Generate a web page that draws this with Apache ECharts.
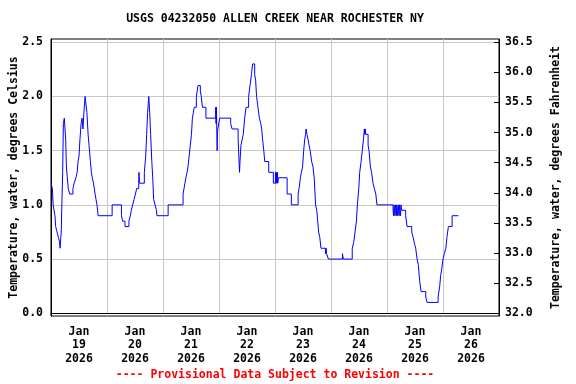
<!DOCTYPE html>
<html><head><meta charset="utf-8">
<script src="https://cdn.jsdelivr.net/npm/echarts@6/dist/echarts.min.js"></script>
<style>html,body{margin:0;padding:0;background:#fff}#c{width:576px;height:384px}</style>
</head><body><div id="c"></div>
<script>
// Hours since 2026-01-19 00:00 at which the reading changes, and the reading (deg C)
const hours = [0.0,0.6,0.9,1.7,2.0,2.6,3.2,3.7,3.9,4.2,4.4,4.6,5.0,5.3,5.7,6.3,6.6,7.0,7.4,8.0,9.4,9.9,10.7,11.2,11.6,12.0,12.4,12.9,13.3,13.7,14.1,14.6,15.4,15.9,16.3,16.9,17.3,17.7,18.2,18.9,19.3,19.7,20.2,
26.2,30.2,30.7,31.7,33.4,34.0,34.4,35.0,35.6,36.2,36.7,37.6,37.7,37.9,40.0,40.6,41.0,41.4,41.9,42.3,42.7,43.2,43.6,44.0,44.6,45.2,45.4,
50.2,56.6,57.0,57.4,57.8,58.3,58.7,59.2,59.7,60.2,60.6,61.0,61.4,62.3,63.0,64.0,64.4,64.9,66.4,
70.6,70.75,70.9,71.05,71.2,71.35,71.5,72.3,77.0,77.6,80.2,80.5,80.8,81.0,81.4,81.9,82.4,83.0,83.6,84.7,85.3,85.9,86.4,87.3,87.7,88.1,88.7,89.3,89.9,90.3,90.7,91.2,91.6,93.3,95.3,
96.2,96.4,96.6,96.8,97.0,97.2,97.4,101.2,103.0,105.9,106.3,106.9,107.3,107.8,108.3,108.7,109.1,109.3,109.7,110.2,110.6,111.1,111.7,112.3,112.8,113.4,113.9,114.3,114.7,115.2,115.7,
117.7,117.9,118.1,118.9,124.9,125.3,129.1,129.7,130.3,130.9,131.3,131.9,132.3,132.9,133.4,133.9,134.3,134.5,134.7,134.9,135.9,136.3,136.9,137.4,138.0,138.6,139.2,139.7,
146.6,146.8,147.0,147.2,147.4,147.6,147.8,148.0,148.2,148.4,148.6,148.8,149.0,149.2,149.4,149.6,149.8,150.0,150.3,
152.0,152.6,154.6,155.2,155.7,156.3,156.9,157.4,158.0,158.6,160.6,161.2,165.9,166.6,167.0,167.4,168.0,168.6,169.2,169.7,170.3,171.9,174.6];
const tempC = [1.2,1.15,1.0,0.9,0.8,0.75,0.7,0.65,0.6,0.7,0.75,0.95,1.3,1.75,1.8,1.6,1.35,1.25,1.15,1.1,1.15,1.2,1.25,1.3,1.4,1.45,1.6,1.75,1.8,1.7,1.85,2.0,1.85,1.65,1.55,1.4,1.3,1.25,1.2,1.1,1.05,1.0,0.9,
1.0,0.9,0.85,0.8,0.85,0.9,0.95,1.0,1.05,1.1,1.15,1.2,1.3,1.2,1.3,1.45,1.65,1.85,2.0,1.85,1.65,1.4,1.25,1.05,1.0,0.95,0.9,
1.0,1.1,1.15,1.2,1.25,1.3,1.35,1.45,1.55,1.65,1.8,1.85,1.9,2.0,2.1,2.05,2.0,1.9,1.8,
1.9,1.75,1.9,1.7,1.5,1.65,1.7,1.8,1.75,1.7,1.6,1.45,1.3,1.4,1.55,1.6,1.65,1.8,1.9,2.0,2.1,2.2,2.3,2.2,2.15,2.0,1.9,1.8,1.75,1.7,1.6,1.5,1.4,1.3,1.2,
1.3,1.2,1.3,1.2,1.3,1.2,1.25,1.1,1.0,1.1,1.15,1.25,1.3,1.35,1.5,1.6,1.65,1.7,1.65,1.6,1.55,1.5,1.4,1.35,1.25,1.0,0.95,0.85,0.75,0.7,0.6,
0.55,0.6,0.55,0.5,0.55,0.5,0.6,0.65,0.75,0.85,1.0,1.15,1.3,1.4,1.5,1.6,1.7,1.65,1.7,1.65,1.55,1.5,1.35,1.3,1.2,1.15,1.1,1.0,
0.95,0.9,1.0,0.95,0.9,1.0,0.95,0.9,1.0,0.95,0.9,1.0,0.95,0.9,1.0,0.95,0.9,1.0,0.95,
0.9,0.8,0.75,0.7,0.65,0.6,0.5,0.45,0.3,0.2,0.15,0.1,0.15,0.25,0.35,0.4,0.5,0.55,0.6,0.7,0.8,0.9,0.9];

const dayLabelHours = [12,36,60,84,108,132,156,180];
const dayLabels = ['Jan\n19\n2026','Jan\n20\n2026','Jan\n21\n2026','Jan\n22\n2026','Jan\n23\n2026','Jan\n24\n2026','Jan\n25\n2026','Jan\n26\n2026'];
const celsiusTicks = [0,0.5,1.0,1.5,2.0,2.5];
const fahrenheitTicks = [32.0,32.5,33.0,33.5,34.0,34.5,35.0,35.5,36.0,36.5];
const titleText = 'USGS 04232050 ALLEN CREEK NEAR ROCHESTER NY';
const footerText = '---- Provisional Data Subject to Revision ----';

const FONT = 'DejaVu Sans Mono';
const txt = {fontFamily: FONT, fontWeight: 'bold', fontSize: 11.5, color: '#000'};
const chart = echarts.init(document.getElementById('c'), null, {renderer: 'canvas'});
const yMinC = -0.025, yMaxC = 2.53;
chart.setOption({
  animation: false,
  backgroundColor: '#fff',
  grid: {left: 51, top: 39, width: 448, height: 277, show: true, borderColor: '#000', borderWidth: 1,
         containLabel: false, outerBoundsMode: 'none'},
  graphic: [
    {type: 'text', x: 275, y: 19, style: {text: titleText, textAlign: 'center', textVerticalAlign: 'middle', fill: '#000', font: 'bold 11.5px "' + FONT + '"'}},
    {type: 'text', x: 275, y: 375, style: {text: footerText, textAlign: 'center', textVerticalAlign: 'middle', fill: '#ff0000', font: 'bold 11.5px "' + FONT + '"'}}
  ],
  xAxis: {
    type: 'value', min: 0, max: 192, interval: 24,
    axisLine: {show: true, lineStyle: {color: '#000', width: 1}},
    axisTick: {show: false},
    splitLine: {show: true, lineStyle: {color: '#c8c8c8', width: 1}},
    axisLabel: Object.assign({}, txt, {
      customValues: dayLabelHours, margin: 9, lineHeight: 13.5,
      formatter: v => dayLabels[dayLabelHours.indexOf(v)] || ''
    })
  },
  yAxis: [
    {
      type: 'value', position: 'left', min: yMinC, max: yMaxC,
      name: 'Temperature, water, degrees Celsius', nameLocation: 'middle', nameGap: 31, nameMoveOverlap: false,
      nameTextStyle: txt,
      axisLine: {show: true, lineStyle: {color: '#000'}},
      axisTick: {show: false, customValues: celsiusTicks},
      splitLine: {show: true, lineStyle: {color: '#c8c8c8', width: 1}},
      axisLabel: Object.assign({}, txt, {customValues: celsiusTicks, margin: 8, formatter: v => v.toFixed(1)})
    },
    {
      type: 'value', position: 'right', min: 32 + yMinC * 1.8, max: 32 + yMaxC * 1.8,
      name: 'Temperature, water, degrees Fahrenheit', nameLocation: 'middle', nameGap: 51, nameRotate: 90, nameMoveOverlap: false,
      nameTextStyle: txt,
      axisLine: {show: true, lineStyle: {color: '#000'}},
      axisTick: {show: true, inside: true, length: 5, customValues: fahrenheitTicks, lineStyle: {color: '#000'}},
      splitLine: {show: false},
      axisLabel: Object.assign({}, txt, {customValues: fahrenheitTicks, margin: 6, formatter: v => v.toFixed(1)})
    }
  ],
  series: [{
    type: 'line', step: 'end', xAxisIndex: 0, yAxisIndex: 0,
    showSymbol: false, symbol: 'none',
    lineStyle: {color: '#0000ff', width: 1},
    data: hours.map((h, i) => [h, tempC[i]])
  }]
});
</script>
</body></html>
